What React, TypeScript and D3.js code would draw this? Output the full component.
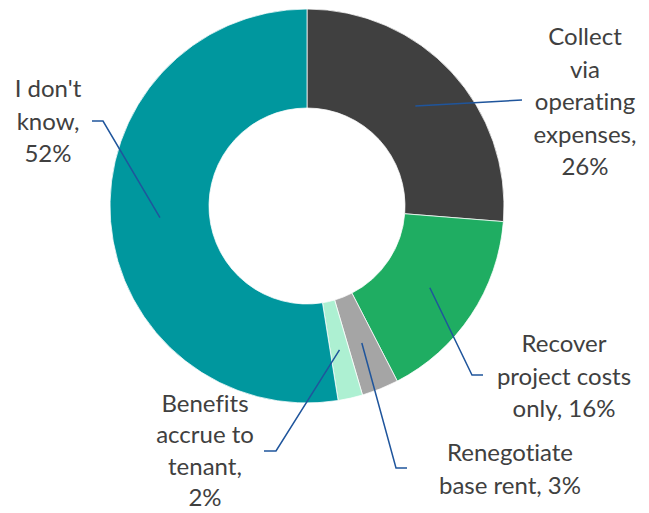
import React from "react";
import * as d3 from "d3";

const categories = [
  "Collect via operating expenses",
  "Recover project costs only",
  "Renegotiate base rent",
  "Benefits accrue to tenant",
  "I don't know",
];
const values = [26, 16, 3, 2, 52];
const labelLines = [
  ["Collect", "via", "operating", "expenses,", "26%"],
  ["Recover", "project costs", "only, 16%"],
  ["Renegotiate", "base rent, 3%"],
  ["Benefits", "accrue to", "tenant,", "2%"],
  ["I don't", "know,", "52%"],
];
const colors = ["#404040", "#1fad62", "#a5a5a5", "#adf0d2", "#00979e"];

// Label layout (text center x, first baseline y, line spacing, leader elbow, leader end)
const labelLayout = [
  { x: 585, y: 45, lh: 32.5, elbow: null as null | [number, number], end: [522, 100] as [number, number] },
  { x: 564, y: 352, lh: 32.5, elbow: [472, 375] as [number, number], end: [483, 375] as [number, number] },
  { x: 510, y: 461, lh: 32.5, elbow: [396, 468] as [number, number], end: [407, 468] as [number, number] },
  { x: 205, y: 412, lh: 31.3, elbow: [276, 451] as [number, number], end: [264, 451] as [number, number] },
  { x: 48, y: 97, lh: 32.5, elbow: [103, 121] as [number, number], end: [92, 121] as [number, number] },
];

const W = 649;
const H = 513;
const cx = 307;
const cy = 206;
const outerR = 197;
const innerR = 98;

export default function App() {
  const pie = d3.pie<number>().sort(null).value((d) => d);
  const arcs = pie(values);
  const arc = d3.arc<d3.PieArcDatum<number>>().innerRadius(innerR).outerRadius(outerR);

  return (
    <svg
      width={W}
      height={H}
      style={{ position: "fixed", left: 0, top: 0, background: "#fff" }}
      fontFamily="Lato, 'Open Sans', sans-serif"
    >
      <g transform={`translate(${cx},${cy})`}>
        {arcs.map((a, i) => (
          <path key={categories[i]} d={arc(a) || ""} fill={colors[i]} stroke="#fff" strokeWidth={0.75} />
        ))}
      </g>
      {arcs.map((a, i) => {
        const [px, py] = arc.centroid(a);
        const L = labelLayout[i];
        const pts: [number, number][] = [[cx + px, cy + py]];
        if (L.elbow) pts.push(L.elbow);
        pts.push(L.end);
        return (
          <polyline
            key={"l" + i}
            points={pts.map((p) => p.join(",")).join(" ")}
            fill="none"
            stroke="#1f559c"
            strokeWidth={1.5}
          />
        );
      })}
      {labelLines.map((lines, i) => (
        <text
          key={"t" + i}
          x={labelLayout[i].x}
          y={labelLayout[i].y}
          textAnchor="middle"
          fontSize={24}
          fill="#404040"
          style={{ fontVariantLigatures: "none" }}
        >
          {lines.map((ln, j) => (
            <tspan key={j} x={labelLayout[i].x} y={labelLayout[i].y + j * labelLayout[i].lh}>
              {ln}
            </tspan>
          ))}
        </text>
      ))}
    </svg>
  );
}
